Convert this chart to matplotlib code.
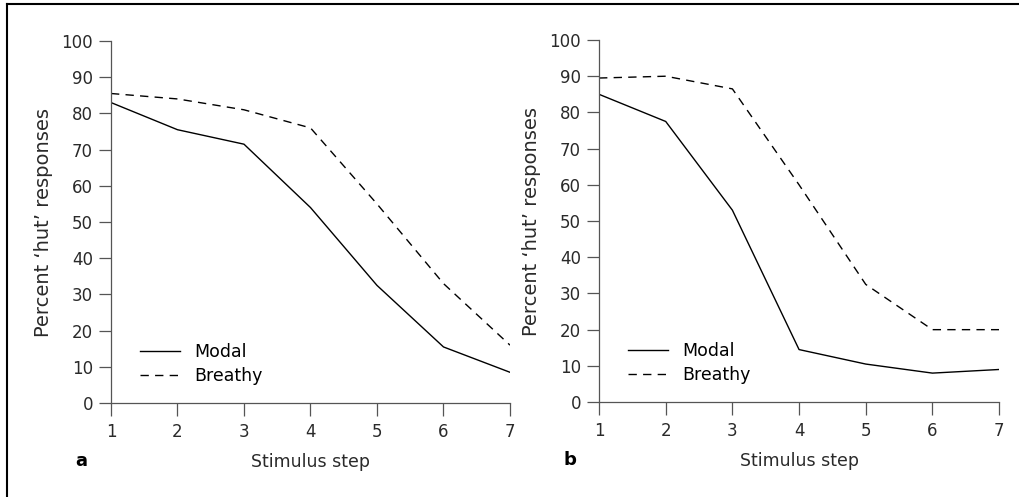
import matplotlib.pyplot as plt
from matplotlib.lines import Line2D

plt.rcParams["font.family"] = ["DejaVu Sans"]

# -----------------------------
# Identification data
# -----------------------------

steps = [1, 2, 3, 4, 5, 6, 7]

modal_a = [83, 75.5, 71.5, 54, 32.5, 15.5, 8.5]
breathy_a = [85.5, 84, 81, 76, 55, 33, 16]

modal_b = [85, 77.5, 53, 14.5, 10.5, 8, 9]
breathy_b = [89.5, 90, 86.5, 60, 32.5, 20, 20]

y_ticks = list(range(0, 101, 10))

# -----------------------------
# Figure
# -----------------------------

fig = plt.figure(figsize=(10.2, 4.97), dpi=100)

ax_a = fig.add_axes([0.1088, 0.189, 0.3912, 0.7285])
ax_b = fig.add_axes([0.5873, 0.191, 0.3922, 0.7285])

axis_color = "#555555"
text_color = "#2a2a2a"


def draw_panel(ax, modal, breathy, letter):
    ax.plot(steps, modal, color="black", linewidth=1.0, label="Modal")
    ax.plot(steps, breathy, color="black", linewidth=1.0,
            linestyle=(0, (6, 4.5)), label="Breathy")

    ax.set_xlim(1, 7)
    ax.set_ylim(0, 100)
    ax.set_xticks(steps)
    ax.set_yticks(y_ticks)

    for side in ["top", "right"]:
        ax.spines[side].set_visible(False)
    for side in ["left", "bottom"]:
        ax.spines[side].set_color(axis_color)
        ax.spines[side].set_linewidth(0.9)

    ax.tick_params(direction="out", length=9, width=0.9, color=axis_color,
                   labelsize=12, labelcolor=text_color, pad=5)
    ax.tick_params(axis="y", pad=4)

    ax.set_xlabel("Stimulus step", fontsize=12.5, color=text_color, labelpad=9)
    ax.set_ylabel("Percent \u2018hut\u2019 responses", fontsize=14,
                  color=text_color, labelpad=6)

    ax.text(-0.09, -0.16, letter, transform=ax.transAxes, fontsize=13,
            fontweight="bold", ha="left", va="center")

    ax.legend(loc="lower left", bbox_to_anchor=(0.072, 0.05), frameon=False,
              fontsize=12.5, handlelength=2.3, handletextpad=0.85,
              labelspacing=0.35, borderaxespad=0, borderpad=0)


draw_panel(ax_a, modal_a, breathy_a, "a")
draw_panel(ax_b, modal_b, breathy_b, "b")

# frame lines along the top and left edge
fig.add_artist(Line2D([0.007, 1.0], [0.992, 0.992], color="black", linewidth=1.5))
fig.add_artist(Line2D([0.007, 0.007], [0.0, 0.992], color="black", linewidth=1.5))

plt.savefig("out.png", dpi=100)
